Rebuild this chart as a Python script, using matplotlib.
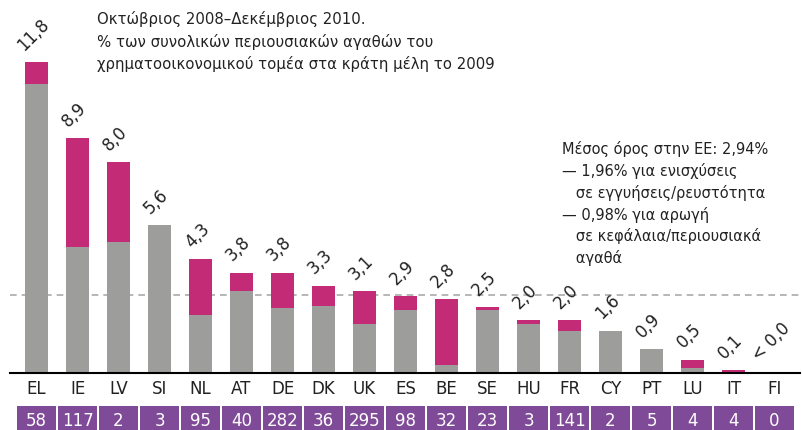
import matplotlib
matplotlib.use("Agg")
import matplotlib.pyplot as plt

countries = ["EL", "IE", "LV", "SI", "NL", "AT", "DE", "DK", "UK", "ES",
             "BE", "SE", "HU", "FR", "CY", "PT", "LU", "IT", "FI"]
guarantees = [10.96, 4.77, 4.96, 5.6, 2.19, 3.10, 2.46, 2.53, 1.85, 2.38,
              0.29, 2.38, 1.85, 1.58, 1.6, 0.9, 0.18, 0.0, 0.0]
totals = [11.8, 8.9, 8.0, 5.6, 4.3, 3.8, 3.8, 3.3, 3.1, 2.9,
          2.8, 2.5, 2.0, 2.0, 1.6, 0.9, 0.5, 0.1, 0.0]
total_labels = ["11,8", "8,9", "8,0", "5,6", "4,3", "3,8", "3,8", "3,3", "3,1", "2,9",
                "2,8", "2,5", "2,0", "2,0", "1,6", "0,9", "0,5", "0,1", "< 0,0"]
capital = [round(t - g, 2) for t, g in zip(totals, guarantees)]
counts = [58, 117, 2, 3, 95, 40, 282, 36, 295, 98, 32, 23, 3, 141, 2, 5, 4, 4, 0]
eu_average = 2.94

title = ("Οκτώβριος 2008–Δεκέμβριος 2010.\n"
         "% των συνολικών περιουσιακών αγαθών του\n"
         "χρηματοοικονομικού τομέα στα κράτη μέλη το 2009")
note = ("Μέσος όρος στην ΕΕ: 2,94%\n"
        "— 1,96% για ενισχύσεις\n"
        "   σε εγγυήσεις/ρευστότητα\n"
        "— 0,98% για αρωγή\n"
        "   σε κεφάλαια/περιουσιακά\n"
        "   αγαθά")

GRAY = "#9d9d9c"
MAG = "#c42b76"
PURPLE = "#7f4a97"

plt.rcParams['font.family'] = ['DejaVu Sans']
W, H = 803, 430
fig = plt.figure(figsize=(W / 100, H / 100), dpi=100)
base_px = 372.7
ax = fig.add_axes([10 / W, (H - base_px) / H, 790 / W, base_px / H])
ppu = 26.33
ax.set_xlim(-26.5 / 41, 763.5 / 41)
ax.set_ylim(0, base_px / ppu)

x = list(range(len(countries)))
ax.bar(x, guarantees, width=0.56, color=GRAY, zorder=2)
ax.bar(x, capital, bottom=guarantees, width=0.56, color=MAG, zorder=2)
ax.axhline(eu_average, color="#aaaaaa", lw=1.2, ls=(0, (4, 3)), zorder=1)

for s in ["top", "right", "left"]:
    ax.spines[s].set_visible(False)
ax.spines["bottom"].set_linewidth(1.5)
ax.set_xticks([])
ax.set_yticks([])

for i, (t, lab) in enumerate(zip(totals, total_labels)):
    ax.text(i - 0.08, t + 0.3, lab, rotation=45, ha="center", va="bottom",
            fontsize=12, color="#222222")

# country labels
lab_y = -(389 - base_px) / ppu
for i, c in enumerate(countries):
    ax.text(i, lab_y, c, ha="center", va="center", fontsize=12, color="#222222",
            clip_on=False)

# count boxes
box_top = -(406 - base_px) / ppu
box_bot = -(432 - base_px) / ppu
ax.bar(x, [box_bot - box_top] * len(x), bottom=box_top, width=0.93,
       color=PURPLE, clip_on=False)
num_y = -(421 - base_px) / ppu
for i, n in enumerate(counts):
    ax.text(i, num_y, str(n), ha="center", va="center", fontsize=12,
            color="white", clip_on=False)

fig.text(97 / W, 1 - 11 / H, title, ha="left", va="top", fontsize=10.7,
         linespacing=1.5, color="#222222")
fig.text(562 / W, 1 - 141 / H, note, ha="left", va="top", fontsize=10.5,
         linespacing=1.45, color="#222222")

fig.savefig("out.png", dpi=100)
